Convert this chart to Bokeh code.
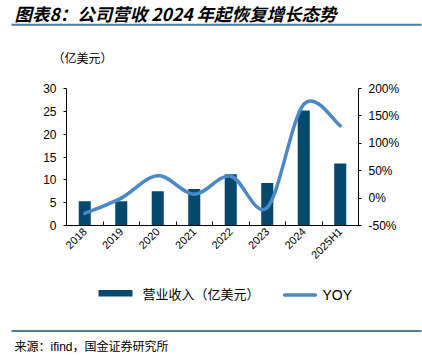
from bokeh.plotting import figure
from bokeh.layouts import column
from bokeh.models import (Range1d, LinearAxis, FixedTicker, PrintfTickFormatter, ColumnDataSource,
                          BoxAnnotation)
from bokeh.core.properties import value
from bokeh.embed import file_html
from bokeh.resources import INLINE
import math

# ---- data ----
categories = ["2018", "2019", "2020", "2021", "2022", "2023", "2024", "2025H1"]
revenue = [5.3, 5.3, 7.5, 8.0, 11.2, 9.3, 25.2, 13.6]        # 亿美元
yoy = [-28, 0, 41, 7, 40, -17, 171, 132]                     # %
left_ticks = [0, 5, 10, 15, 20, 25, 30]
right_ticks = [-50, 0, 50, 100, 150, 200]
series_names = ["营业收入（亿美元）", "YOY"]

BAR_COLOR = "#05496F"
LINE_COLOR = "#4A88C7"
RULE_COLOR = "#4F7E9C"
LATIN = "Liberation Sans"
CJK = "Noto Sans CJK SC"
W = 422


def blank_fig(h):
    f = figure(width=W, height=h, output_backend="svg", toolbar_location=None,
               x_range=Range1d(0, W), y_range=Range1d(0, h), min_border=0,
               x_axis_type=None, y_axis_type=None)
    f.frame_align = False
    f.outline_line_color = None
    f.xgrid.visible = False
    f.ygrid.visible = False
    return f


# ---------- header (canvas Y -> HH - Y) ----------
HH = 70
hdr = blank_fig(HH)
hdr.add_layout(BoxAnnotation(left=11, right=421, top=HH - 23.3, bottom=HH - 25.3,
                             fill_color=RULE_COLOR, fill_alpha=1, line_color=None))
hdr.text(x=[14], y=[HH - 13], text=["图表8：公司营收 2024 年起恢复增长态势"],
         text_font=value(CJK), text_font_style="bold italic", text_font_size="17.5px",
         text_color="black", text_baseline="middle", text_align="left")
hdr.text(x=[52], y=[HH - 57], text=["（亿美元）"], text_font=value(CJK), text_font_size="12px",
         text_color="black", text_baseline="middle", text_align="left")

# ---------- main chart ----------
MH = 210
p = figure(width=W, height=MH, output_backend="svg", toolbar_location=None,
           x_range=Range1d(0, len(categories)), y_range=Range1d(0, 30),
           min_border_left=66, min_border_right=64, min_border_top=18, min_border_bottom=55)
p.frame_align = False
p.outline_line_color = None
p.xgrid.visible = False
p.ygrid.visible = False

xs = [i + 0.5 for i in range(len(categories))]
src = ColumnDataSource(dict(x=xs, top=revenue))
p.vbar(x="x", top="top", width=0.33, bottom=0, source=src,
       fill_color=BAR_COLOR, line_color=None)

p.extra_y_ranges = {"yoy": Range1d(-50, 200)}
rax = LinearAxis(y_range_name="yoy")
p.add_layout(rax, "right")

# smoothed YOY line (Catmull-Rom segments drawn as beziers)
n = len(xs)
x0s, y0s, x1s, y1s, cx0s, cy0s, cx1s, cy1s = [], [], [], [], [], [], [], []
for i in range(n - 1):
    pm = (xs[max(i - 1, 0)], yoy[max(i - 1, 0)])
    p0 = (xs[i], yoy[i])
    p1 = (xs[i + 1], yoy[i + 1])
    p2 = (xs[min(i + 2, n - 1)], yoy[min(i + 2, n - 1)])
    x0s.append(p0[0]); y0s.append(p0[1]); x1s.append(p1[0]); y1s.append(p1[1])
    cx0s.append(p0[0] + (p1[0] - pm[0]) / 6); cy0s.append(p0[1] + (p1[1] - pm[1]) / 6)
    cx1s.append(p1[0] - (p2[0] - p0[0]) / 6); cy1s.append(p1[1] - (p2[1] - p0[1]) / 6)
p.bezier(x0=x0s, y0=y0s, x1=x1s, y1=y1s, cx0=cx0s, cy0=cy0s, cx1=cx1s, cy1=cy1s,
         y_range_name="yoy", line_color=LINE_COLOR, line_width=3.5, line_cap="round")

xax = p.xaxis[0]
xax.ticker = FixedTicker(ticks=xs, minor_ticks=[float(i) for i in range(1, n)])
xax.major_label_overrides = {x: c for x, c in zip(xs, categories)}
xax.major_label_orientation = math.pi / 4
xax.major_tick_out = 0
xax.major_tick_in = 0
xax.minor_tick_in = 4
xax.minor_tick_out = 0
xax.major_label_standoff = 4

yax = p.yaxis[0]
yax.ticker = FixedTicker(ticks=left_ticks)
rax.ticker = FixedTicker(ticks=right_ticks)
rax.formatter = PrintfTickFormatter(format="%d%%")
for ax in (yax, rax):
    ax.major_tick_out = 3
    ax.major_tick_in = 0
    ax.minor_tick_out = 0
    ax.minor_tick_in = 0
    ax.major_label_standoff = 7
for ax in (xax, yax, rax):
    ax.axis_line_color = "black"
    ax.major_tick_line_color = "black"
    ax.minor_tick_line_color = "black"
    ax.major_label_text_font = LATIN
    ax.major_label_text_color = "black"
    ax.major_label_text_font_size = "12px"
xax.major_label_text_font_size = "11px"

# ---------- footer (canvas Y 280..355) ----------
FH = 75
Y0 = HH + MH
ftr = blank_fig(FH)


def fy(Y):
    return FH - (Y - Y0)


# legend (drawn by hand)
ftr.quad(left=[98], right=[132], top=[fy(289.5)], bottom=[fy(296)],
         fill_color=BAR_COLOR, line_color=None)
ftr.text(x=[142], y=[fy(293)], text=[series_names[0]], text_font=value(CJK),
         text_font_size="13px", text_color="black", text_baseline="middle", text_align="left")
ftr.segment(x0=[284], y0=[fy(294.5)], x1=[315], y1=[fy(294.5)],
            line_color=LINE_COLOR, line_width=3.5, line_cap="round")
ftr.text(x=[322], y=[fy(294)], text=[series_names[1]], text_font=value(LATIN),
         text_font_size="14px", text_color="black", text_baseline="middle", text_align="left")

ftr.segment(x0=[11], y0=[fy(330.4)], x1=[421], y1=[fy(330.4)],
            line_color=RULE_COLOR, line_width=2)
ftr.text(x=[14], y=[fy(346)], text=["来源：ifind，国金证券研究所"], text_font=value(f"{LATIN}, {CJK}"),
         text_font_size="12px", text_color="black", text_baseline="middle", text_align="left")

layout = column(hdr, p, ftr, spacing=0)
open("out.html", "w").write(file_html(layout, INLINE))
